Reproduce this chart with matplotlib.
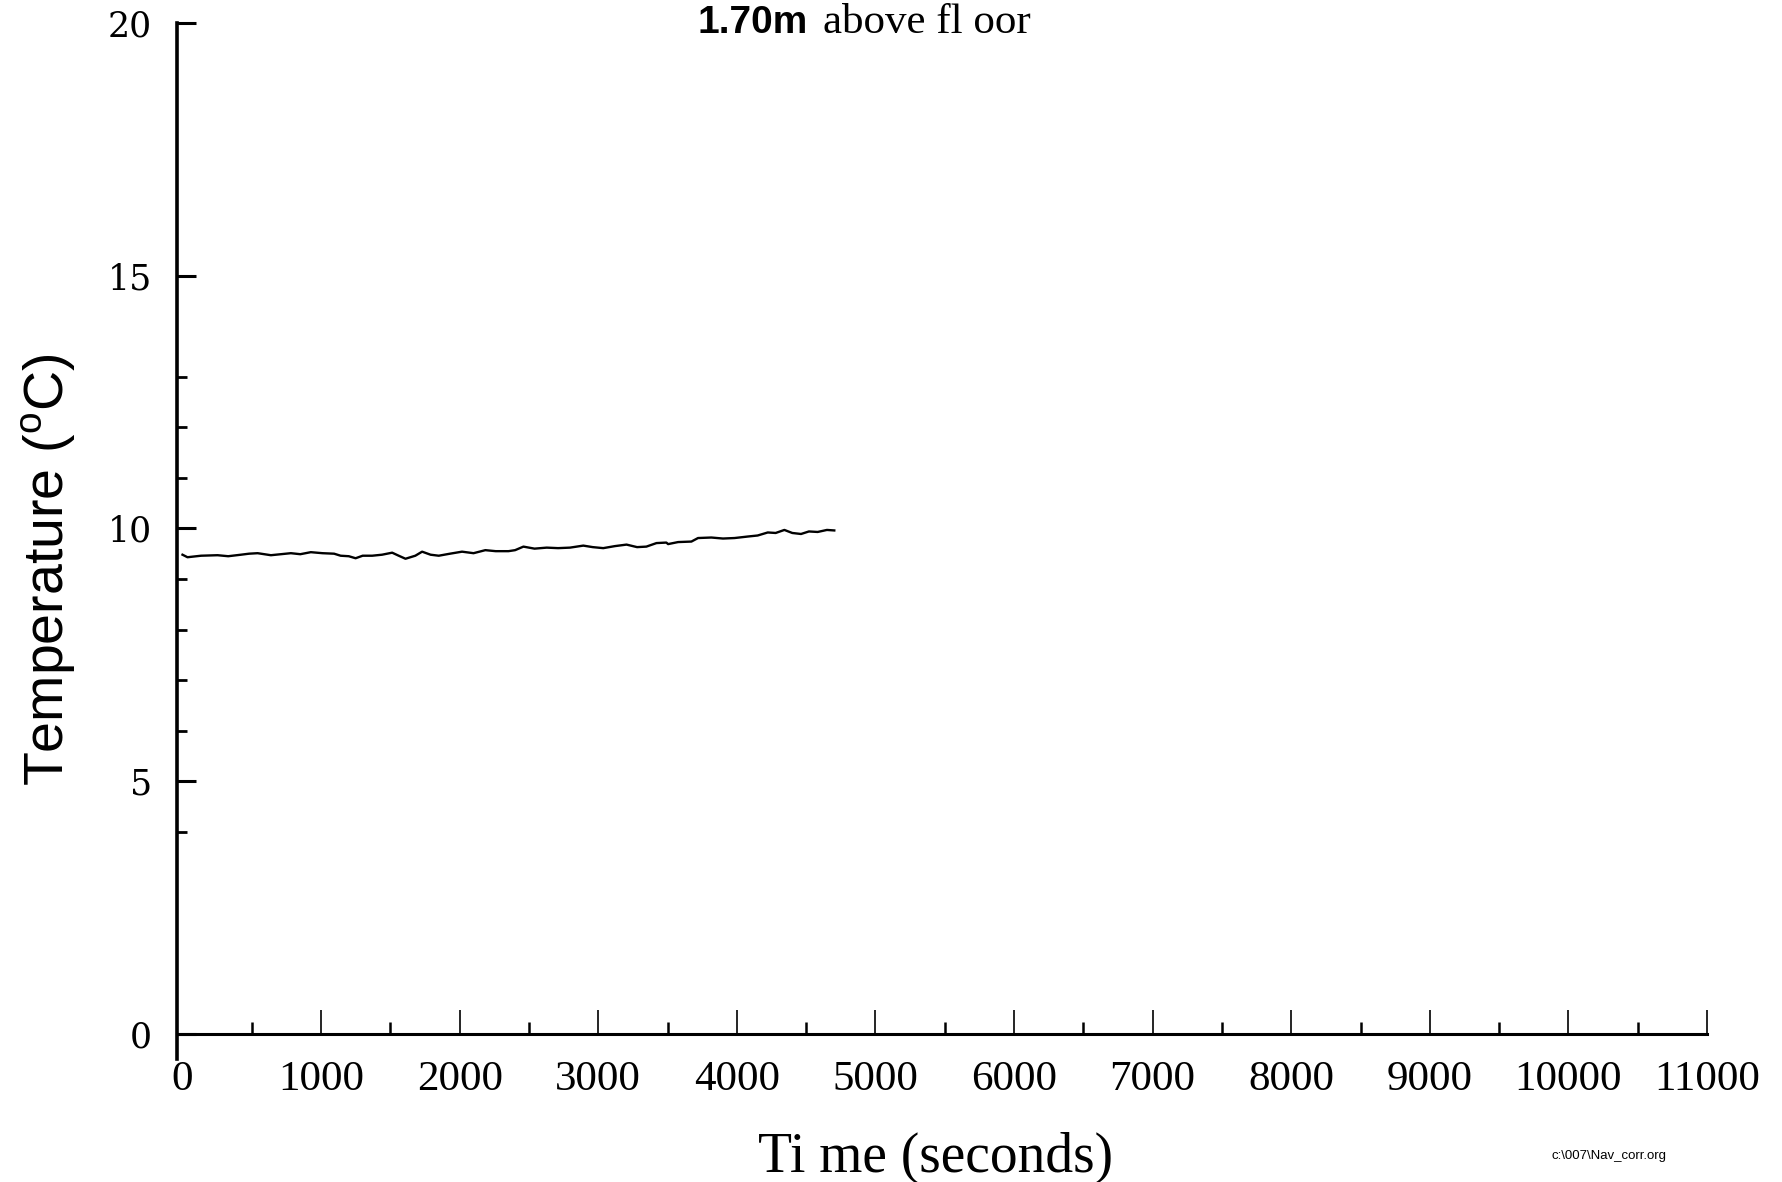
import matplotlib
matplotlib.use('Agg')
import matplotlib.pyplot as plt
from matplotlib.ticker import FixedLocator

# temperature trace (time in s, temp in degC)
times = [0, 36, 134, 253, 330, 422, 480, 542, 638, 710, 782, 850, 926, 1010,
         1094, 1141, 1200, 1249, 1300, 1369, 1440, 1513, 1560, 1609, 1680,
         1729, 1790, 1849, 1930, 2017, 2100, 2185, 2260, 2352, 2400, 2460,
         2540, 2628, 2710, 2796, 2892, 2960, 3036, 3120, 3204, 3280, 3347,
         3420, 3491, 3504, 3576, 3672, 3720, 3816, 3900, 3984, 4080, 4150,
         4223, 4280, 4343, 4400, 4463, 4520, 4583, 4650, 4703]
temps = [9.48, 9.43, 9.46, 9.47, 9.45, 9.48, 9.50, 9.51, 9.47, 9.49, 9.51,
         9.49, 9.53, 9.51, 9.50, 9.46, 9.45, 9.41, 9.46, 9.46, 9.48, 9.52,
         9.46, 9.40, 9.46, 9.54, 9.48, 9.46, 9.50, 9.54, 9.51, 9.57, 9.55,
         9.55, 9.57, 9.64, 9.60, 9.62, 9.61, 9.62, 9.66, 9.63, 9.61, 9.65,
         9.68, 9.63, 9.64, 9.71, 9.72, 9.69, 9.73, 9.74, 9.81, 9.82, 9.80,
         9.81, 9.84, 9.86, 9.92, 9.91, 9.97, 9.91, 9.89, 9.94, 9.93, 9.97,
         9.96]

x_major = [0, 1000, 2000, 3000, 4000, 5000, 6000, 7000, 8000, 9000, 10000, 11000]
x_minor = [500, 1500, 2500, 3500, 4500, 5500, 6500, 7500, 8500, 9500, 10500]
y_major = [0, 5, 10, 15, 20]
y_minor = [4, 6, 7, 8, 9, 11, 12, 13]

plt.rcParams['mathtext.fontset'] = 'custom'
plt.rcParams['mathtext.rm'] = 'Liberation Sans'

fig = plt.figure(figsize=(17.82, 11.82), dpi=100)
ax = fig.add_axes([0.0993, 0.104, 0.8586, 0.8765])

ax.plot(times, temps, color='black', linewidth=1.7)

ax.set_xlim(-40, 11000)
ax.set_ylim(-0.5, 20)

ax.spines['top'].set_visible(False)
ax.spines['right'].set_visible(False)
ax.spines['bottom'].set_position(('data', 0))
ax.spines['left'].set_linewidth(2.6)
ax.spines['bottom'].set_linewidth(2.2)

ax.xaxis.set_major_locator(FixedLocator(x_major))
ax.xaxis.set_minor_locator(FixedLocator(x_minor))
ax.yaxis.set_major_locator(FixedLocator(y_major))
ax.yaxis.set_minor_locator(FixedLocator(y_minor))

ax.tick_params(axis='x', which='major', direction='in', length=17, width=1.2, pad=19)
ax.tick_params(axis='x', which='minor', direction='in', length=9, width=1.8)
ax.tick_params(axis='y', which='major', direction='in', length=14, width=2.2, pad=18)
ax.tick_params(axis='y', which='minor', direction='in', length=7, width=2.0)
# no tick mark at x = 0 in the original
ax.xaxis.get_major_ticks()[0].tick1line.set_visible(False)

for lab in ax.get_xticklabels():
    lab.set_fontfamily('Liberation Serif')
    lab.set_fontsize(31)
for lab in ax.get_yticklabels():
    lab.set_fontfamily('DejaVu Serif')
    lab.set_fontsize(25)

# axis titles
fig.text(0.027, 0.518, r'Temperature ($^{\rm o}$C)', rotation=90,
         ha='center', va='center', fontsize=40, family='Liberation Sans')
fig.text(0.525, 0.020, 'Ti me (seconds)', ha='center', va='center',
         fontsize=40, family='Liberation Serif')

# title in two fonts
fig.text(697 / 1782, 1 - 33 / 1182, '1.70m', ha='left', va='baseline',
         fontsize=28, fontweight='bold', family='Liberation Sans')
fig.text(823 / 1782, 1 - 33 / 1182, 'above fl oor', ha='left', va='baseline',
         fontsize=31, family='Liberation Serif')

fig.text(1609 / 1782, 1 - 1156 / 1182, 'c:\\007\\Nav_corr.org', ha='center',
         va='center', fontsize=9.5, family='Liberation Sans')

fig.savefig('out.png', dpi=100)
